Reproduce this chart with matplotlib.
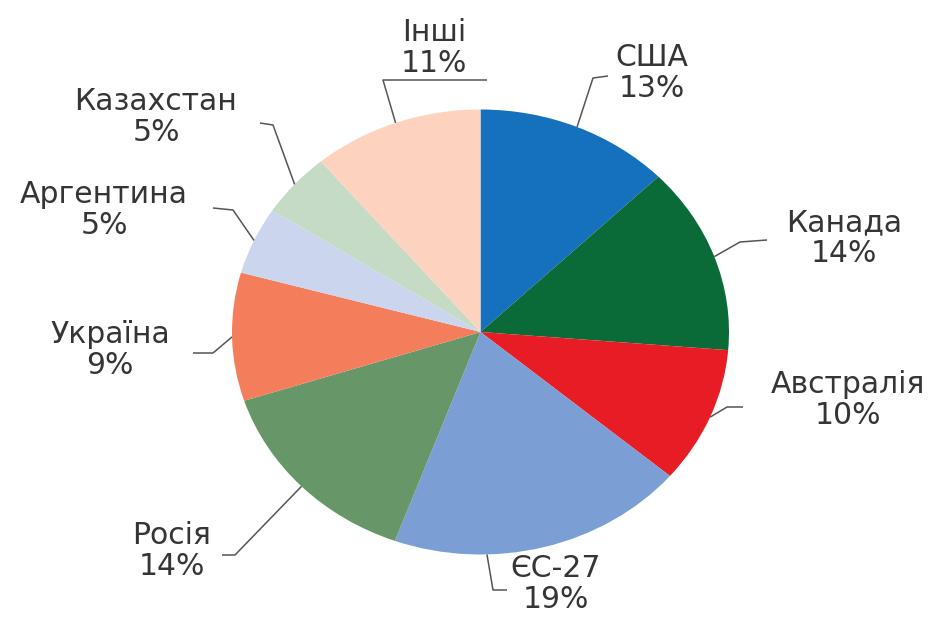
import numpy as np
import matplotlib.pyplot as plt

# data
labels = ['США', 'Канада', 'Австралія', 'ЄС-27', 'Росія', 'Україна',
          'Аргентина', 'Казахстан', 'Інші']
shares = [13, 14, 10, 19, 14, 9, 5, 5, 11]            # printed labels
values = [12.7, 13.6, 9.9, 19.4, 14.4, 9.3, 4.9, 4.7, 11.1]  # wedge sizes as drawn
colors = ['#1570be', '#0a6b38', '#e81c24', '#7b9fd4', '#679768',
          '#f47e5c', '#cbd6ee', '#c5dbc5', '#fdd3c0']

# layout in pixels (label centre, elbow of leader, end of leader)
label_xy = [(652, 73), (844, 238), (848, 400), (556, 584), (172, 551),
            (110, 350), (104, 210), (156, 117), (434, 48)]
elbow_xy = [(593, 78), (740, 242), (727, 407), (493, 590), (235, 555),
            (213, 353), (233, 210), (273, 125), (383, 80)]
end_xy = [(608, 76), (767, 240), (743, 407), (507, 590), (222, 555),
          (193, 353), (213, 208), (260, 123), (487, 80)]
anchor = [0.5, 0.5, 0.5, 0.69, 0.5, 0.5, 0.5, 0.5, 0.5]

W, H = 939, 618
CX, CY, RX, RY = 480.5, 332, 248.5, 222.5


def px(x, y):
    return (x - CX) / RX, (CY - y) / RY


fig = plt.figure(figsize=(W / 100, H / 100), dpi=100)
ax = fig.add_axes([0, 0, 1, 1])

wedges, _ = ax.pie(values, colors=colors, startangle=90, counterclock=False,
                   radius=1, center=(0, 0), wedgeprops=dict(linewidth=0))
ax.set_aspect('auto')
ax.set_xlim(px(0, 0)[0], px(W, 0)[0])
ax.set_ylim(px(0, H)[1], px(0, 0)[1])
ax.axis('off')

for w, name, val, lxy, exy, txy, a in zip(wedges, labels, shares, label_xy,
                                          elbow_xy, end_xy, anchor):
    # clockwise wedges: theta2 is the start side
    mid = np.deg2rad(w.theta2 + (w.theta1 - w.theta2) * a)
    start = (np.cos(mid), np.sin(mid))
    e = px(*exy)
    t = px(*txy)
    ax.plot([start[0], e[0], t[0]], [start[1], e[1], t[1]], color='#555555', lw=1.1,
            solid_capstyle='butt')
    x, y = px(*lxy)
    ax.text(x, y, f'{name}\n{val}%', ha='center', va='center', fontsize=21.5,
            color='#353535', linespacing=1.05, family='DejaVu Sans')

fig.savefig('out.png', dpi=100)
